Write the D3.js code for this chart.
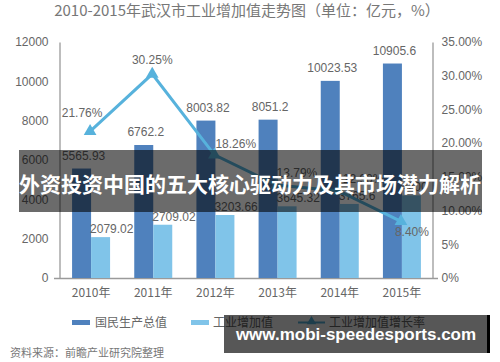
<!DOCTYPE html>
<html><head><meta charset="utf-8">
<script src="https://cdn.jsdelivr.net/npm/d3@7/dist/d3.min.js"></script>
<style>
html,body{margin:0;padding:0;background:#fff;}
svg{display:block;}
text{font-family:"Liberation Sans",Arial,"Noto Sans CJK SC",sans-serif;}
.cjk{font-family:"Noto Sans CJK SC","Liberation Sans",sans-serif;}
</style></head>
<body>
<script>
const title = "2010-2015年武汉市工业增加值走势图（单位：亿元，%）";
const years = ["2010年","2011年","2012年","2013年","2014年","2015年"];
const gdp = [5565.93, 6762.2, 8003.82, 8051.2, 10023.53, 10905.6];
const industry = [2079.02, 2709.02, 3203.66, 3645.32, 3765.6, 4200];
const growth = [21.76, 30.25, 18.26, 13.79, 12.9, 8.40];
const leftTicks = [0, 2000, 4000, 6000, 8000, 10000, 12000];
const rightTicks = [0, 5, 10, 15, 20, 25, 30, 35];
const rightTickLabels = ["0%", "5%", "10.00%", "15.00%", "20.00%", "25.00%", "30.00%", "35.00%"];
const seriesNames = ["国民生产总值", "工业增加值", "工业增加值增长率"];
const source = "资料来源：前瞻产业研究院整理";
const bannerText = "外资投资中国的五大核心驱动力及其市场潜力解析";
const watermark = "www.mobi-speedesports.com";

// label placement offsets for growth labels (dx, dy, anchor)
const growthLabelPos = [[-8,-14,"middle"],[0,-10,"middle"],[1,-7,"start"],[0,-8,"start"],[4,-8,"start"],[-6,15,"start"]];

const W = 500, H = 362;
const colGdp = "#4f81bd", colInd = "#80c4e9", colLine = "#57b2dc", axisCol = "#9a9a9a", txtCol = "#666";

const svg = d3.select("body").append("svg").attr("width", W).attr("height", H);

const x = d3.scaleBand().domain(years).range([60, 433]);
const y = d3.scaleLinear().domain([0, 12000]).range([278, 42]);
const y2 = d3.scaleLinear().domain([0, 35]).range([278, 42]);
const bw = 19;

// title
svg.append("text").attr("class","cjk").attr("x", 247).attr("y", 16).attr("text-anchor","middle")
  .attr("font-size", 15).attr("fill", "#777").text(title);

// axes
const gl = svg.append("g").attr("transform","translate(59.5,0)")
  .call(d3.axisLeft(y).tickValues(leftTicks).tickSize(0).tickPadding(11).tickFormat(d3.format("d")));
const gr = svg.append("g").attr("transform","translate(432.5,0)")
  .call(d3.axisRight(y2).tickValues(rightTicks).tickSize(0).tickPadding(9)
    .tickFormat((d,i)=>rightTickLabels[i]));
[gl, gr].forEach(g => {
  g.select(".domain").attr("stroke", axisCol).attr("stroke-width", 1.3);
  g.selectAll("text").attr("font-size", 12).attr("fill", txtCol)
    .attr("font-family", '"Liberation Sans",Arial,sans-serif');
});
svg.append("line").attr("x1", 54).attr("x2", 438).attr("y1", y(0)+0.5).attr("y2", y(0)+0.5)
  .attr("stroke", axisCol).attr("stroke-width", 1.3);

// x labels
svg.append("g").selectAll("text").data(years).join("text").attr("class","cjk")
  .attr("x", d => x(d) + x.bandwidth()/2).attr("y", 297).attr("text-anchor","middle")
  .attr("font-size", 12).attr("fill", txtCol).text(d => d);

// bars
svg.append("g").selectAll("rect").data(gdp).join("rect")
  .attr("x", (d,i) => x(years[i]) + x.bandwidth()/2 - bw).attr("width", bw)
  .attr("y", d => y(d)).attr("height", d => y(0) - y(d)).attr("fill", colGdp);
svg.append("g").selectAll("rect").data(industry).join("rect")
  .attr("x", (d,i) => x(years[i]) + x.bandwidth()/2).attr("width", bw)
  .attr("y", d => y(d)).attr("height", d => y(0) - y(d)).attr("fill", colInd);

// bar labels
svg.append("g").selectAll("text").data(gdp).join("text")
  .attr("x", (d,i) => x(years[i]) + x.bandwidth()/2 - bw/2 + 2).attr("y", d => y(d) - 9)
  .attr("text-anchor","middle").attr("font-size", 12).attr("fill", txtCol).text(d => String(d));
svg.append("g").selectAll("text").data(industry).join("text")
  .attr("x", (d,i) => x(years[i]) + x.bandwidth()/2 - 1).attr("y", d => y(d) - 4)
  .attr("text-anchor","start").attr("font-size", 12).attr("fill", txtCol).text(d => String(d));

// line
const cx = i => x(years[i]) + x.bandwidth()/2 - 1;
const line = d3.line().x((d,i) => cx(i)).y(d => y2(d));
svg.append("path").datum(growth).attr("d", line).attr("fill","none")
  .attr("stroke", colLine).attr("stroke-width", 3);
const tri = d3.symbol().type(d3.symbolTriangle).size(70);
svg.append("g").selectAll("path").data(growth).join("path")
  .attr("d", tri).attr("transform", (d,i) => `translate(${cx(i)},${y2(d)})`).attr("fill", colLine);
svg.append("g").selectAll("text").data(growth).join("text")
  .attr("x", (d,i) => cx(i) + growthLabelPos[i][0]).attr("y", (d,i) => y2(d) + growthLabelPos[i][1])
  .attr("text-anchor", (d,i) => growthLabelPos[i][2])
  .attr("font-size", 12).attr("fill", txtCol).text(d => d3.format(".2f")(d) + "%");

// legend
const lg = svg.append("g");
lg.append("rect").attr("x", 72).attr("y", 320).attr("width", 18).attr("height", 5).attr("fill", colGdp);
lg.append("text").attr("class","cjk").attr("x", 95).attr("y", 327).attr("font-size", 12).attr("fill", txtCol).text(seriesNames[0]);
lg.append("rect").attr("x", 191).attr("y", 320).attr("width", 18).attr("height", 5).attr("fill", colInd);
lg.append("text").attr("class","cjk").attr("x", 213).attr("y", 327).attr("font-size", 12).attr("fill", txtCol).text(seriesNames[1]);
lg.append("line").attr("x1", 298).attr("x2", 325).attr("y1", 322.5).attr("y2", 322.5).attr("stroke", colLine).attr("stroke-width", 2);
lg.append("path").attr("d", d3.symbol().type(d3.symbolTriangle).size(40)).attr("transform","translate(311.5,321.5)").attr("fill", colLine);
lg.append("text").attr("class","cjk").attr("x", 329).attr("y", 327).attr("font-size", 12).attr("fill", txtCol).text(seriesNames[2]);

// source
svg.append("text").attr("class","cjk").attr("x", 10).attr("y", 357).attr("font-size", 11).attr("fill", "#777").text(source);

// overlay banner
svg.append("rect").attr("x", 19).attr("y", 150).attr("width", 463).attr("height", 62).attr("fill", "rgba(0,0,0,0.58)");
svg.append("text").attr("class","cjk").attr("x", 250).attr("y", 192).attr("text-anchor","middle")
  .attr("font-size", 21).attr("font-weight", "bold").attr("fill", "#fff").text(bannerText);

// watermark
svg.append("rect").attr("x", 224).attr("y", 315).attr("width", 266).attr("height", 38).attr("fill", "rgba(0,0,0,0.66)");
svg.append("rect").attr("x", 487).attr("y", 315).attr("width", 3).attr("height", 38).attr("fill", "#000");
svg.append("text").attr("x", 356).attr("y", 340).attr("text-anchor","middle")
  .attr("font-family", '"DejaVu Sans",sans-serif').attr("font-size", 17).attr("font-weight","bold")
  .attr("fill", "#fff").text(watermark);
</script>
</body></html>
